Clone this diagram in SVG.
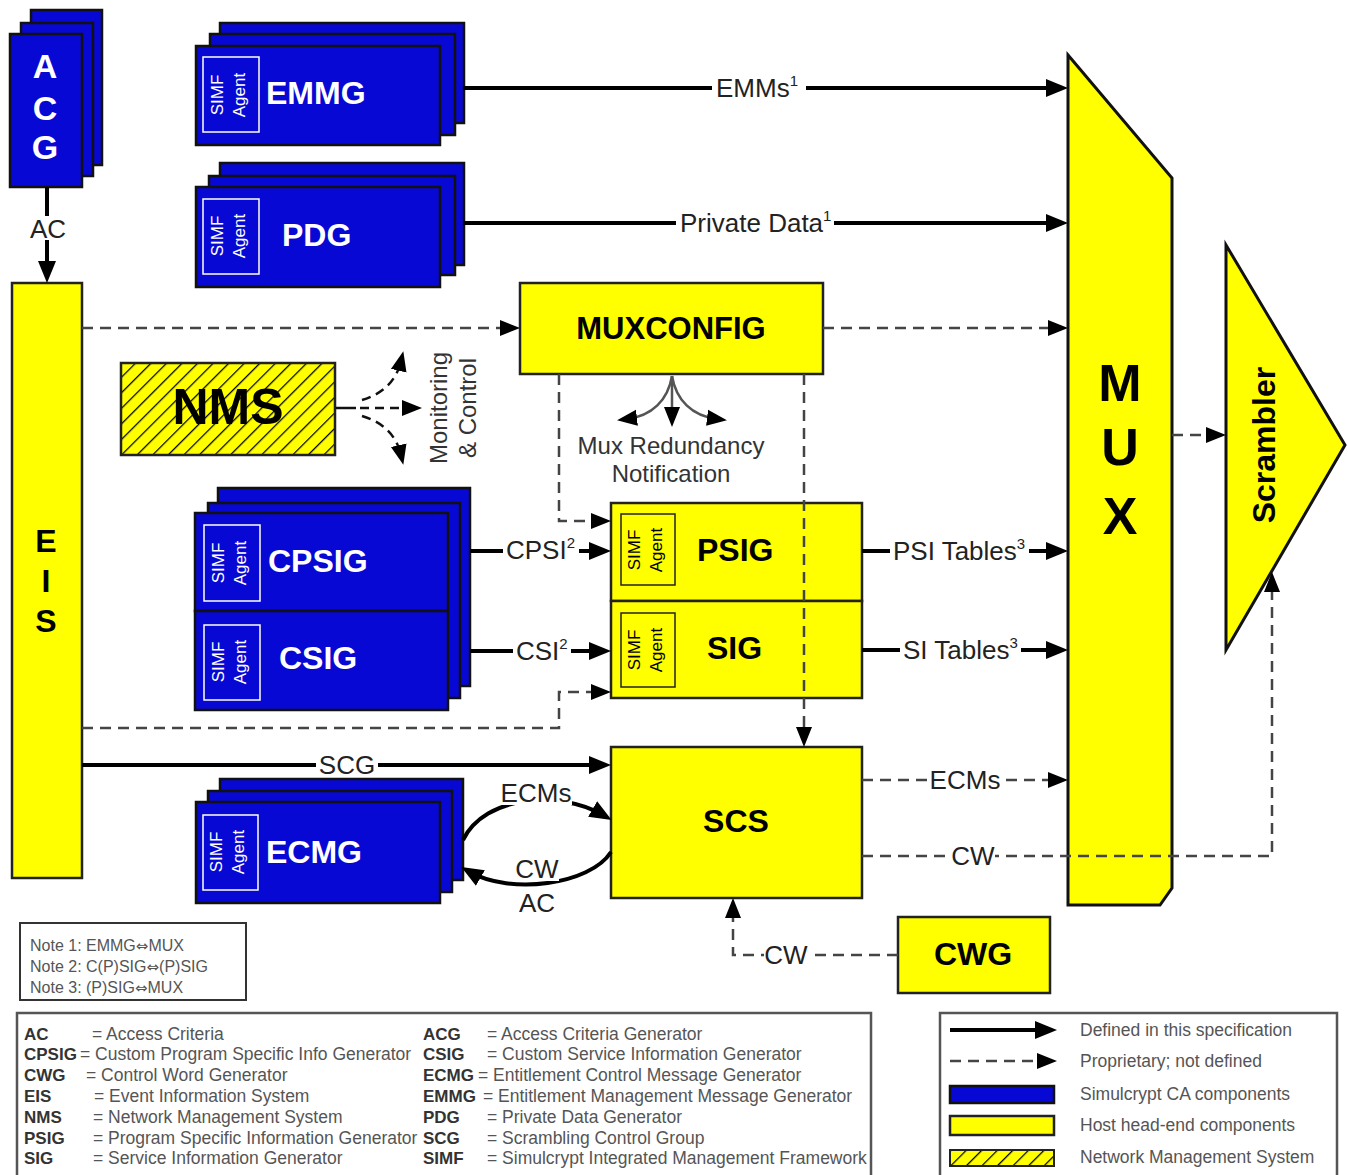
<svg xmlns="http://www.w3.org/2000/svg" width="1348" height="1175" viewBox="0 0 1348 1175">
<defs>
<style>
.bl{fill:#0808d4;stroke:#111;stroke-width:2.5}
.ye{fill:#ffff00;stroke:#222;stroke-width:2.5}
.sw{fill:none;stroke:#fff;stroke-width:1.5}
.sk{fill:none;stroke:#222;stroke-width:1.5}
.t{font-family:"Liberation Sans",Arial,sans-serif}
.wb{font-family:"Liberation Sans",Arial,sans-serif;font-weight:bold;fill:#fff}
.kb{font-family:"Liberation Sans",Arial,sans-serif;font-weight:bold;fill:#000}
.sa{font-family:"Liberation Sans",Arial,sans-serif;font-size:17px;text-anchor:middle}
.lbl{font-family:"Liberation Sans",Arial,sans-serif;font-size:26px;fill:#222}
.bg{fill:#fff}
.solid{fill:none;stroke:#000;stroke-width:4;marker-end:url(#ah)}
.dash{fill:none;stroke:#444;stroke-width:2.5;stroke-dasharray:11 7;marker-end:url(#ahd)}
.thin{fill:none;stroke:#555;stroke-width:2.5;marker-end:url(#ahs)}
.nm{fill:none;stroke:#111;stroke-width:2.5;stroke-dasharray:9 6;marker-end:url(#ahs)}
.lg{font-family:"Liberation Sans",Arial,sans-serif;font-size:17.5px;fill:#555}
.lgb{font-family:"Liberation Sans",Arial,sans-serif;font-size:17px;font-weight:bold;fill:#333}
.arr{font-family:"DejaVu Sans",sans-serif;font-size:15px}
</style>
<marker id="ah" markerUnits="userSpaceOnUse" markerWidth="24" markerHeight="22" refX="12" refY="11" orient="auto"><path d="M0,2 L22,11 L0,20 z" fill="#000"/></marker>
<marker id="ahd" markerUnits="userSpaceOnUse" markerWidth="22" markerHeight="20" refX="10" refY="10" orient="auto"><path d="M0,2 L20,10 L0,18 z" fill="#000"/></marker>
<marker id="ahs" markerUnits="userSpaceOnUse" markerWidth="22" markerHeight="20" refX="10" refY="10" orient="auto"><path d="M0,2 L20,10 L0,18 z" fill="#000"/></marker>
<pattern id="hatch" patternUnits="userSpaceOnUse" width="11" height="11" patternTransform="rotate(45)"><rect width="11" height="11" fill="#ffff00"/><line x1="0" y1="0" x2="0" y2="11" stroke="#000" stroke-width="2.5"/></pattern>
</defs>
<rect width="1348" height="1175" fill="#fff"/>

<g id="ACG">
<rect class="bl" x="31" y="10" width="71" height="155"/>
<rect class="bl" x="21" y="23" width="72" height="153"/>
<rect class="bl" x="10" y="34" width="72" height="153"/>
<text class="wb" font-size="34" text-anchor="middle" x="45" y="78">A</text>
<text class="wb" font-size="34" text-anchor="middle" x="45" y="120">C</text>
<text class="wb" font-size="34" text-anchor="middle" x="45" y="159">G</text>
</g>

<g id="EIS">
<rect class="ye" x="12" y="283" width="70" height="595"/>
<text class="kb" font-size="32" text-anchor="middle" x="46" y="552">E</text>
<text class="kb" font-size="32" text-anchor="middle" x="46" y="592">I</text>
<text class="kb" font-size="32" text-anchor="middle" x="46" y="632">S</text>
</g>

<g id="EMMG">
<rect class="bl" x="220" y="23" width="244" height="100"/>
<rect class="bl" x="210" y="34" width="245" height="101"/>
<rect class="bl" x="196" y="46" width="244" height="99"/>
<rect class="sw" x="203" y="57" width="56" height="75"/>
<text class="sa" fill="#fff" transform="translate(231,95) rotate(-90)"><tspan x="0" y="-8">SIMF</tspan><tspan x="0" y="14">Agent</tspan></text>
<text class="wb" font-size="32" x="266" y="104">EMMG</text>
</g>

<g id="PDG">
<rect class="bl" x="220" y="163" width="244" height="102"/>
<rect class="bl" x="209" y="176" width="246" height="99"/>
<rect class="bl" x="196" y="187" width="244" height="100"/>
<rect class="sw" x="203" y="199" width="56" height="75"/>
<text class="sa" fill="#fff" transform="translate(231,236) rotate(-90)"><tspan x="0" y="-8">SIMF</tspan><tspan x="0" y="14">Agent</tspan></text>
<text class="wb" font-size="32" x="282" y="246">PDG</text>
</g>

<g id="MUXCONFIG">
<rect class="ye" x="520" y="283" width="303" height="91"/>
<text class="kb" font-size="31" text-anchor="middle" x="671" y="339">MUXCONFIG</text>
</g>

<g id="NMS">
<rect x="121" y="363" width="214" height="92" fill="url(#hatch)" stroke="#222" stroke-width="2.5"/>
<text class="kb" font-size="50" text-anchor="middle" x="228" y="424">NMS</text>
</g>

<g id="CPSIG-CSIG">
<rect class="bl" x="218" y="488" width="252" height="198"/>
<rect class="bl" x="208" y="503" width="252" height="195"/>
<rect class="bl" x="195" y="513" width="253" height="98"/>
<rect class="bl" x="195" y="611" width="253" height="99"/>
<rect class="sw" x="204" y="525" width="56" height="76"/>
<text class="sa" fill="#fff" transform="translate(232,563) rotate(-90)"><tspan x="0" y="-8">SIMF</tspan><tspan x="0" y="14">Agent</tspan></text>
<text class="wb" font-size="32" x="268" y="572">CPSIG</text>
<rect class="sw" x="204" y="625" width="56" height="75"/>
<text class="sa" fill="#fff" transform="translate(232,662) rotate(-90)"><tspan x="0" y="-8">SIMF</tspan><tspan x="0" y="14">Agent</tspan></text>
<text class="wb" font-size="32" x="279" y="669">CSIG</text>
</g>

<g id="PSIG">
<rect class="ye" x="611" y="503" width="251" height="98"/>
<rect class="sk" x="621" y="514" width="54" height="71"/>
<text class="sa" fill="#000" transform="translate(648,550) rotate(-90)"><tspan x="0" y="-8">SIMF</tspan><tspan x="0" y="14">Agent</tspan></text>
<text class="kb" font-size="32" x="697" y="561">PSIG</text>
</g>

<g id="SIG">
<rect class="ye" x="611" y="601" width="251" height="97"/>
<rect class="sk" x="621" y="613" width="54" height="74"/>
<text class="sa" fill="#000" transform="translate(648,650) rotate(-90)"><tspan x="0" y="-8">SIMF</tspan><tspan x="0" y="14">Agent</tspan></text>
<text class="kb" font-size="32" x="707" y="659">SIG</text>
</g>

<g id="SCS">
<rect class="ye" x="611" y="747" width="251" height="151"/>
<text class="kb" font-size="32" text-anchor="middle" x="736" y="832">SCS</text>
</g>

<g id="ECMG">
<rect class="bl" x="220" y="779" width="243" height="101"/>
<rect class="bl" x="208" y="791" width="244" height="101"/>
<rect class="bl" x="196" y="802" width="244" height="101"/>
<rect class="sw" x="203" y="815" width="55" height="75"/>
<text class="sa" fill="#fff" transform="translate(230,852) rotate(-90)"><tspan x="0" y="-8">SIMF</tspan><tspan x="0" y="14">Agent</tspan></text>
<text class="wb" font-size="32" x="266" y="863">ECMG</text>
</g>

<g id="CWG">
<rect class="ye" x="898" y="917" width="152" height="76"/>
<text class="kb" font-size="32" text-anchor="middle" x="973" y="965">CWG</text>
</g>

<g id="MUX">
<polygon points="1068,55 1172,178 1172,888 1160,905 1068,905" fill="#ffff00" stroke="#111" stroke-width="3"/>
<text class="kb" font-size="52" text-anchor="middle" x="1120" y="401">M</text>
<text class="kb" font-size="52" text-anchor="middle" x="1120" y="465">U</text>
<text class="kb" font-size="52" text-anchor="middle" x="1120" y="534">X</text>
</g>

<g id="Scrambler">
<polygon points="1226,245 1345,445 1226,650" fill="#ffff00" stroke="#111" stroke-width="3"/>
<text class="kb" font-size="32" text-anchor="middle" transform="translate(1264,445) rotate(-90)" y="11">Scrambler</text>
</g>

<g id="connectors">
<path class="solid" d="M47,187 L47,273"/>
<path class="solid" d="M463,88 L1058,88"/>
<path class="solid" d="M463,223 L1058,223"/>
<path class="solid" d="M470,551 L601,551"/>
<path class="solid" d="M470,651 L601,651"/>
<path class="solid" d="M862,551 L1058,551"/>
<path class="solid" d="M862,650 L1058,650"/>
<path class="solid" d="M82,765 L601,765"/>
<path class="solid" d="M463,840 C485,795 560,790 603,815"/>
<path class="solid" d="M611,852 C590,885 510,895 470,872"/>
<path class="dash" d="M82,328 L510,328"/>
<path class="dash" d="M823,328 L1058,328"/>
<path class="dash" d="M559,374 L559,521 L601,521"/>
<path class="dash" d="M82,728 L559,728 L559,692 L601,692"/>
<path class="dash" d="M804,374 L804,737"/>
<path class="dash" d="M862,780 L1058,780"/>
<path class="dash" d="M862,856 L1272,856 L1272,582"/>
<path class="dash" d="M898,955 L733,955 L733,908"/>
<path class="dash" d="M1172,435 L1216,435"/>
<path d="M336,408 L356,408" stroke="#111" stroke-width="2.5"/>
<path class="nm" d="M362,400 C382,394 396,382 401,361"/>
<path class="nm" d="M360,408 L412,408"/>
<path class="nm" d="M362,416 C382,422 396,434 401,455"/>
<path class="thin" d="M672,376 C668,400 652,416 627,419"/>
<path class="thin" d="M672,376 L672,417"/>
<path class="thin" d="M672,376 C676,400 692,416 717,419"/>

<rect class="bg" x="30" y="216" width="36" height="24"/>
<rect class="bg" x="712" y="76" width="94" height="24"/>
<rect class="bg" x="676" y="211" width="158" height="24"/>
<rect class="bg" x="503" y="539" width="76" height="24"/>
<rect class="bg" x="513" y="639" width="58" height="24"/>
<rect class="bg" x="890" y="539" width="139" height="24"/>
<rect class="bg" x="900" y="638" width="121" height="24"/>
<rect class="bg" x="316" y="753" width="62" height="24"/>
<rect class="bg" x="500" y="781" width="72" height="24"/>
<rect class="bg" x="515" y="857" width="44" height="24"/>
<rect class="bg" x="929" y="768" width="72" height="24"/>
<rect class="bg" x="951" y="844" width="44" height="24"/>
<rect class="bg" x="764" y="943" width="44" height="24"/>

<text class="lbl" text-anchor="middle" x="48" y="238">AC</text>
<text class="lbl" x="716" y="97">EMMs<tspan font-size="15" dy="-11">1</tspan></text>
<text class="lbl" x="680" y="232">Private Data<tspan font-size="15" dy="-11">1</tspan></text>
<text class="lbl" x="506" y="559">CPSI<tspan font-size="15" dy="-11">2</tspan></text>
<text class="lbl" x="516" y="660">CSI<tspan font-size="15" dy="-11">2</tspan></text>
<text class="lbl" x="893" y="560">PSI Tables<tspan font-size="15" dy="-11">3</tspan></text>
<text class="lbl" x="903" y="659">SI Tables<tspan font-size="15" dy="-11">3</tspan></text>
<text class="lbl" text-anchor="middle" x="347" y="774">SCG</text>
<text class="lbl" text-anchor="middle" x="536" y="802">ECMs</text>
<text class="lbl" text-anchor="middle" x="537" y="878">CW</text>
<text class="lbl" text-anchor="middle" x="537" y="912">AC</text>
<text class="lbl" text-anchor="middle" x="965" y="789">ECMs</text>
<text class="lbl" text-anchor="middle" x="973" y="865">CW</text>
<text class="lbl" text-anchor="middle" x="786" y="964">CW</text>
<text class="t" font-size="24" fill="#333" text-anchor="middle" x="671" y="454">Mux Redundancy</text>
<text class="t" font-size="24" fill="#333" text-anchor="middle" x="671" y="482">Notification</text>
<text class="t" font-size="24" fill="#333" text-anchor="middle" transform="translate(440,408) rotate(-90)" y="7">Monitoring</text>
<text class="t" font-size="24" fill="#333" text-anchor="middle" transform="translate(468,408) rotate(-90)" y="8">&amp; Control</text>
</g>

<g id="notes">
<rect x="20" y="923" width="226" height="77" fill="#fff" stroke="#333" stroke-width="2"/>
<text class="t" font-size="16" fill="#555" x="30" y="951">Note 1: EMMG<tspan class="arr">⇔</tspan>MUX</text>
<text class="t" font-size="16" fill="#555" x="30" y="972">Note 2: C(P)SIG<tspan class="arr">⇔</tspan>(P)SIG</text>
<text class="t" font-size="16" fill="#555" x="30" y="993">Note 3: (P)SIG<tspan class="arr">⇔</tspan>MUX</text>
</g>

<g id="abbreviations">
<rect x="17" y="1013" width="854" height="170" fill="#fff" stroke="#555" stroke-width="2.5"/>
<text class="lgb" x="24" y="1040">AC</text><text class="lg" x="92" y="1040">= Access Criteria</text>
<text class="lgb" x="24" y="1060">CPSIG</text><text class="lg" x="80" y="1060">= Custom Program Specific Info Generator</text>
<text class="lgb" x="24" y="1081">CWG</text><text class="lg" x="86" y="1081">= Control Word Generator</text>
<text class="lgb" x="24" y="1102">EIS</text><text class="lg" x="94" y="1102">= Event Information System</text>
<text class="lgb" x="24" y="1123">NMS</text><text class="lg" x="93" y="1123">= Network Management System</text>
<text class="lgb" x="24" y="1144">PSIG</text><text class="lg" x="93" y="1144">= Program Specific Information Generator</text>
<text class="lgb" x="24" y="1164">SIG</text><text class="lg" x="93" y="1164">= Service Information Generator</text>
<text class="lgb" x="423" y="1040">ACG</text><text class="lg" x="487" y="1040">= Access Criteria Generator</text>
<text class="lgb" x="423" y="1060">CSIG</text><text class="lg" x="487" y="1060">= Custom Service Information Generator</text>
<text class="lgb" x="423" y="1081">ECMG</text><text class="lg" x="478" y="1081">= Entitlement Control Message Generator</text>
<text class="lgb" x="423" y="1102">EMMG</text><text class="lg" x="483" y="1102">= Entitlement Management Message Generator</text>
<text class="lgb" x="423" y="1123">PDG</text><text class="lg" x="487" y="1123">= Private Data Generator</text>
<text class="lgb" x="423" y="1144">SCG</text><text class="lg" x="487" y="1144">= Scrambling Control Group</text>
<text class="lgb" x="423" y="1164">SIMF</text><text class="lg" x="487" y="1164">= Simulcrypt Integrated Management Framework</text>
</g>

<g id="legend">
<rect x="940" y="1013" width="397" height="170" fill="#fff" stroke="#555" stroke-width="2.5"/>
<path class="solid" d="M950,1030 L1047,1030"/>
<path class="dash" d="M950,1061 L1047,1061"/>
<rect class="bl" x="950" y="1086" width="104" height="17"/>
<rect class="ye" x="950" y="1116" width="104" height="19"/>
<rect x="950" y="1150" width="104" height="16" fill="url(#hatch)" stroke="#222" stroke-width="2"/>
<text class="lg" font-size="18" x="1080" y="1036">Defined in this specification</text>
<text class="lg" font-size="16" x="1080" y="1067">Proprietary; not defined</text>
<text class="lg" font-size="17" x="1080" y="1100">Simulcrypt CA components</text>
<text class="lg" font-size="18" x="1080" y="1131">Host head-end components</text>
<text class="lg" font-size="17" x="1080" y="1163">Network Management System</text>
</g>
</svg>
